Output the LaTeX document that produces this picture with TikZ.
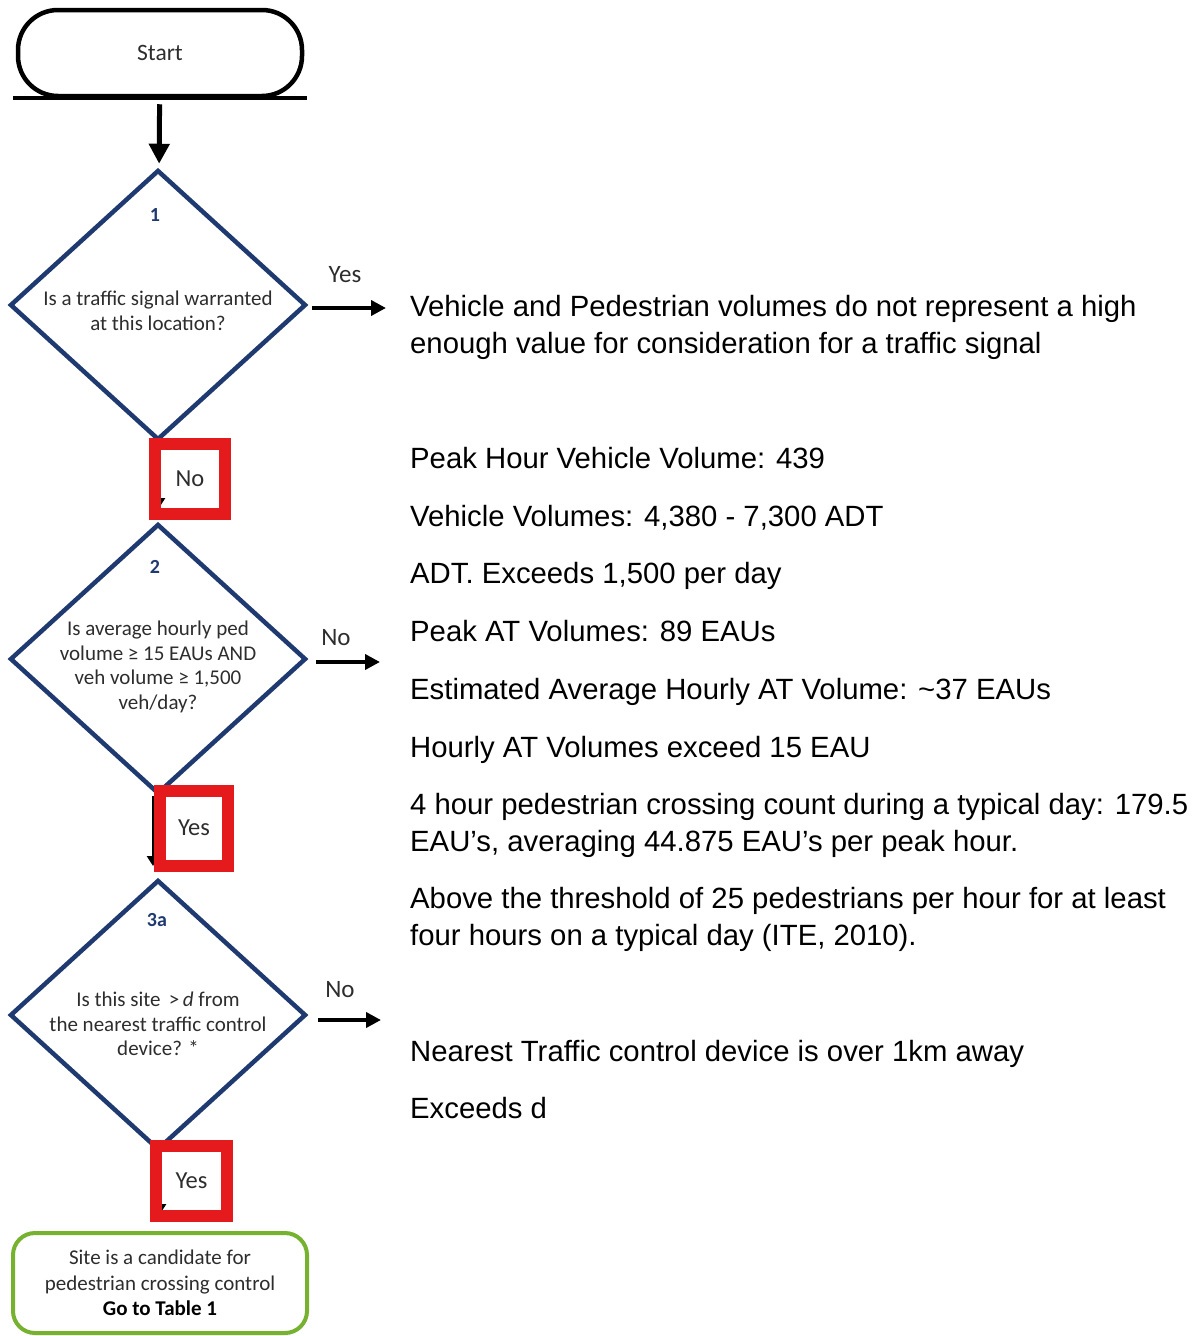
\documentclass[tikz,border=0pt]{standalone}
\usepackage{fontspec}
\setmainfont{Carlito}
\newfontfamily\arialfont{Liberation Sans}
\usetikzlibrary{shapes.geometric,arrows.meta,positioning}
\definecolor{qblue}{RGB}{31,58,112}
\definecolor{boxred}{RGB}{228,26,28}
\definecolor{endgreen}{RGB}{118,178,48}
\definecolor{inkgray}{RGB}{45,45,45}

\begin{document}
\begin{tikzpicture}[x=1pt,y=-1pt,
    decision/.style={diamond,draw=qblue,line width=4.5pt,minimum width=296pt,minimum height=270pt,inner sep=0pt},
    ask/.style={align=center,font=\fontsize{21}{24.5}\selectfont,text=inkgray},
    qnum/.style={font=\fontsize{20}{22}\selectfont\bfseries,text=qblue},
    answer/.style={font=\fontsize{25}{28}\selectfont,text=inkgray},
    redbox/.style={draw=boxred,line width=12pt,inner sep=0pt,font=\fontsize{24.5}{28}\selectfont,text=inkgray},
    flow/.style={line width=4pt,-{Triangle[length=15pt,width=15pt]}},
    tinyflow/.style={line width=2.5pt,-{Triangle[length=10pt,width=12pt]}},
    note/.style={anchor=base west,align=left,inner sep=0pt,font=\arialfont\fontsize{29.3}{37}\selectfont}
]
    \useasboundingbox (0,0) rectangle (1197,1336);

    % Start
    \node[draw,line width=4.5pt,rounded corners=40pt,minimum width=284pt,minimum height=86pt,
          font=\fontsize{23.5}{26}\selectfont,text=inkgray] (start) at (160,53) {Start};
    \draw[line width=4pt] ([xshift=-3pt]start.south west) -- ([xshift=3pt]start.south east);

    % Questions
    \node[decision] (q1) at (158,305) {};
    \node[decision] (q2) at (158,659) {};
    \node[decision] (q3) at (158,1015) {};
    \node[qnum] (n1) at (155,215) {1};
    \node[qnum] (n2) at (155,567) {2};
    \node[qnum] (n3) at (157,920) {3a};
    \node[ask] (t1) at (158,311) {Is a traffic signal warranted\\at this location?};
    \node[ask] (t2) at (158,667) {Is average hourly ped\\volume ≥ 15 EAUs AND\\veh volume ≥ 1,500\\veh/day?};
    \node[ask] (t3) at (158,1024) {Is this site \,>\,\textit{d} from\\the nearest traffic control\\device? *};

    % End
    \node[draw=endgreen,line width=4pt,rounded corners=22pt,minimum width=294pt,minimum height=100pt,
          align=center,font=\fontsize{21}{25.5}\selectfont,text=inkgray] (finish) at (160,1283)
          {Site is a candidate for\\pedestrian crossing control\\{\color{black}\bfseries Go to Table 1}};

    % Down arrows
    \draw[line width=5pt,-{Triangle[length=20pt,width=20pt]},shorten <=6pt,shorten >=5pt] (start) -- (q1);
    \coordinate (h1) at (159,508);
    \coordinate (h2) at (153,866);
    \coordinate (h3) at (160,1214);
    \draw[tinyflow] (q1.south -| h1) -- (h1);
    \draw[tinyflow] (q2.south -| h2) -- (h2);
    \draw[tinyflow] (q3.south -| h3) -- (h3);

    % Highlighted answers
    \node[redbox,minimum width=70pt,minimum height=70pt] (no1) at (190,479) {No};
    \node[redbox,minimum width=68pt,minimum height=75pt] (yes2) at (194,828) {Yes};
    \node[redbox,minimum width=71pt,minimum height=70pt] (yes3) at (191.5,1181) {Yes};

    % Side arrows
    \coordinate (e1) at (386,308);
    \coordinate (e2) at (380,662);
    \coordinate (e3) at (381,1020);
    \draw[flow,shorten <=4pt] (q1.east |- e1) -- (e1);
    \draw[flow,shorten <=8pt] (q2.east |- e2) -- (e2);
    \draw[flow,shorten <=10pt] (q3.east |- e3) -- (e3);
    \node[answer] (a1) at (345,275) {Yes};
    \node[answer] (a2) at (336,638) {No};
    \node[answer] (a3) at (340,990) {No};

    % Findings
    \node[note] (f1) at (410,353) {Vehicle and Pedestrian volumes do not represent a high\\enough value for consideration for a traffic signal};
    \node[note] (f2) at (410,468) {Peak Hour Vehicle Volume: 439};
    \node[note] (f3) at (410,526) {Vehicle Volumes: 4,380 - 7,300 ADT};
    \node[note] (f4) at (410,583) {ADT. Exceeds 1,500 per day};
    \node[note] (f5) at (410,641) {Peak AT Volumes: 89 EAUs};
    \node[note] (f6) at (410,699) {Estimated Average Hourly AT Volume: \textasciitilde37 EAUs};
    \node[note] (f7) at (410,757) {Hourly AT Volumes exceed 15 EAU};
    \node[note] (f8) at (410,851) {4 hour pedestrian crossing count during a typical day: 179.5\\EAU’s, averaging 44.875 EAU’s per peak hour.};
    \node[note] (f9) at (410,945) {Above the threshold of 25 pedestrians per hour for at least\\four hours on a typical day (ITE, 2010).};
    \node[note] (f10) at (410,1061) {Nearest Traffic control device is over 1km away};
    \node[note] (f11) at (410,1118) {Exceeds d};

\end{tikzpicture}
\end{document}
